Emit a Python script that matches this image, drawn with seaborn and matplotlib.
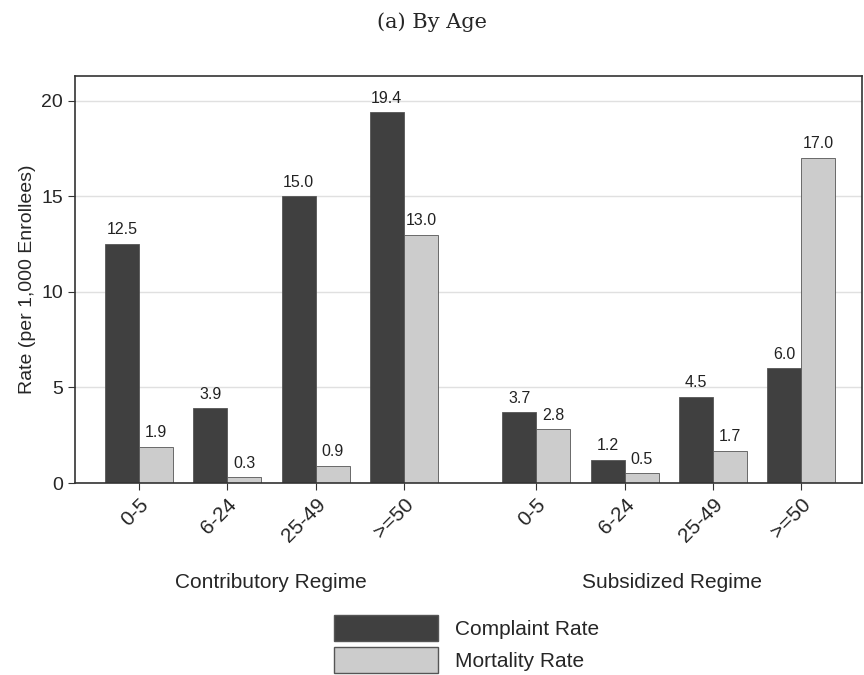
import numpy as np
import pandas as pd
import matplotlib
matplotlib.use("Agg")
import matplotlib.pyplot as plt
import seaborn as sns
from matplotlib.patches import Patch

ages = ["0-5", "6-24", "25-49", ">=50"]
regimes = ["Contributory Regime", "Subsidized Regime"]
complaint_contrib = [12.5, 3.9, 15.0, 19.4]
mortality_contrib = [1.9, 0.3, 0.9, 13.0]
complaint_subsid = [3.7, 1.2, 4.5, 6.0]
mortality_subsid = [2.8, 0.5, 1.7, 17.0]
positions = [0, 1, 2, 3, 4.5, 5.5, 6.5, 7.5]

rows = []
comp_all = complaint_contrib + complaint_subsid
mort_all = mortality_contrib + mortality_subsid
for p, c, m in zip(positions, comp_all, mort_all):
    rows.append({"pos": p, "rate": c, "measure": "Complaint Rate"})
    rows.append({"pos": p, "rate": m, "measure": "Mortality Rate"})
df = pd.DataFrame(rows)

sns.set_style("white")
plt.rcParams["font.family"] = ["Liberation Sans", "DejaVu Sans"]

fig = plt.figure(figsize=(8.64, 6.75), dpi=100)
ax = fig.add_axes([75 / 864, 1 - 483 / 675, 787 / 864, 407 / 675])
colors = ["#404040", "#cccccc"]
sns.barplot(data=df, x="pos", y="rate", hue="measure", native_scale=True,
            palette=colors, width=0.77, edgecolor="#555555", linewidth=0.6,
            legend=False, ax=ax)

for cont in ax.containers:
    for bar in cont:
        h = bar.get_height()
        if np.isnan(h):
            continue
        ax.text(bar.get_x() + bar.get_width() / 2, h + 0.35, f"{h:.1f}",
                ha="center", va="bottom", fontsize=11.5, color="#222222")

ax.set_xlim(-0.725, 8.19)
ax.set_ylim(0, 21.3)
ax.set_yticks([0, 5, 10, 15, 20])
ax.yaxis.grid(True, color="#e0e0e0", linewidth=1)
ax.set_axisbelow(True)
ax.set_xticks(positions)
ax.set_xticklabels(ages * 2, rotation=45, ha="right", rotation_mode="anchor", fontsize=15)
ax.tick_params(axis="y", labelsize=14, left=True, length=5, color="#333333")
ax.tick_params(axis="x", bottom=True, length=5, color="#333333")
for s in ax.spines.values():
    s.set_color("#333333")
    s.set_linewidth(1.2)
ax.set_xlabel("")
ax.set_ylabel("Rate (per 1,000 Enrollees)", fontsize=14)

fig.text(271 / 864, 1 - 583 / 675, regimes[0], ha="center", va="center", fontsize=15)
fig.text(672 / 864, 1 - 583 / 675, regimes[1], ha="center", va="center", fontsize=15)
fig.text(0.5, 1 - 22 / 675, "(a) By Age", ha="center", va="center", fontsize=15,
         family="DejaVu Serif")

handles = [Patch(facecolor=colors[0], edgecolor="#555555"),
           Patch(facecolor=colors[1], edgecolor="#555555")]
fig.legend(handles, ["Complaint Rate", "Mortality Rate"], loc="center",
           bbox_to_anchor=(0.54, 1 - 644 / 675), frameon=False, fontsize=15,
           handlelength=5, handleheight=1.5, labelspacing=0.3)

fig.savefig("out.png", dpi=100)
